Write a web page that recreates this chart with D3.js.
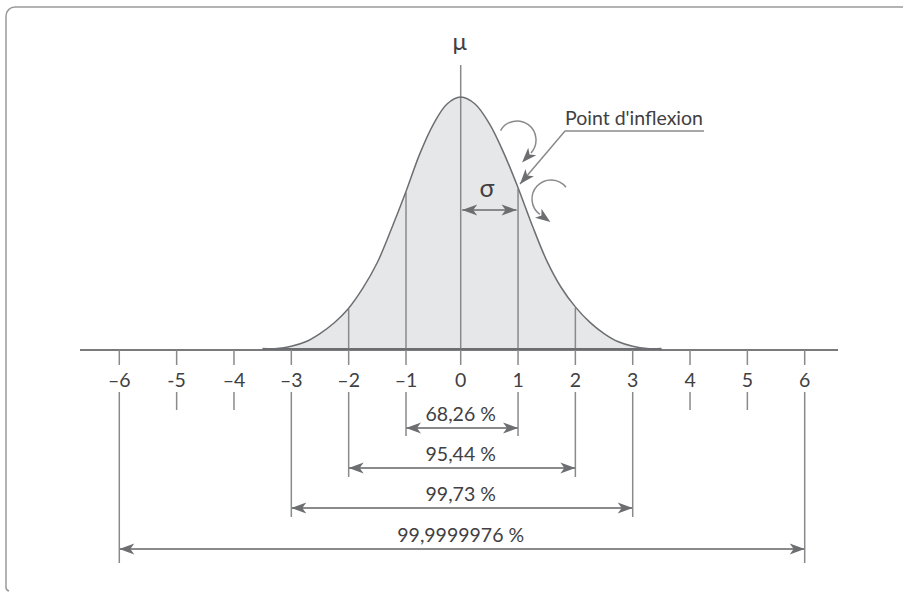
<!DOCTYPE html>
<html>
<head>
<meta charset="utf-8">
<script src="https://cdn.jsdelivr.net/npm/d3@7"></script>
<style>
  html, body { margin: 0; padding: 0; background: #fff; }
  svg { display: block; }
  text { font-family: Lato, "Open Sans", sans-serif; fill: #414042; }
</style>
</head>
<body>
<svg id="chart" width="903" height="593"></svg>
<script>
// ---- data ----
const tickValues = [-6, -5, -4, -3, -2, -1, 0, 1, 2, 3, 4, 5, 6];
const tickLabels = ["\u20136", "-5", "\u20134", "\u20133", "\u20132", "\u20131", "0", "1", "2", "3", "4", "5", "6"];
// density curve
const curveX = [-3.5, -3.25, -3.0, -2.75, -2.5, -2.25, -2.0, -1.75, -1.5, -1.25, -1.0, -0.75, -0.5, -0.25, 0,
                0.25, 0.5, 0.75, 1.0, 1.25, 1.5, 1.75, 2.0, 2.25, 2.5, 2.75, 3.0, 3.25, 3.5];
const curveV = [0.000, 0.002, 0.006, 0.013, 0.026, 0.043, 0.066, 0.098, 0.138, 0.192, 0.250, 0.309, 0.356, 0.388, 0.399,
                0.388, 0.357, 0.311, 0.256, 0.196, 0.141, 0.099, 0.068, 0.044, 0.026, 0.013, 0.006, 0.002, 0.000];
// coverage intervals
const intervalHalfWidth = [1, 2, 3, 6];
const intervalLabels = ["68,26 %", "95,44 %", "99,73 %", "99,9999976 %"];
const innerLines = [-2, -1, 1, 2];

// ---- layout ----
const svg = d3.select("#chart");
const x = d3.scaleLinear().domain([-6, -1, 0, 6]).range([119.3, 406, 460.7, 804.7]);
const y = d3.scaleLinear().domain([0, 0.4]).range([350, 96.4]);
const axisY = 350;
const rowY = [428, 468, 508, 549];      // arrow rows
const labelBase = [421, 461, 500.5, 542];
const lowerTickEnd = { 1: 436, 2: 477, 3: 517, 4: 410, 5: 410, 6: 563 };

const lineCol = "#8a8a8c", darkCol = "#6d6e71";

// markers
const defs = svg.append("defs");
defs.append("marker").attr("id", "tip")
  .attr("viewBox", "-16 -7 17 14").attr("refX", 0).attr("refY", 0)
  .attr("markerWidth", 17).attr("markerHeight", 14).attr("markerUnits", "userSpaceOnUse")
  .attr("orient", "auto-start-reverse")
  .append("path").attr("d", "M0,0 L-15,-5.5 L-11,0 L-15,5.5 Z").attr("fill", darkCol);
defs.append("marker").attr("id", "out")
  .attr("viewBox", "-4 -7 17 14").attr("refX", 0).attr("refY", 0)
  .attr("markerWidth", 17).attr("markerHeight", 14).attr("markerUnits", "userSpaceOnUse")
  .attr("orient", "auto")
  .append("path").attr("d", "M13,0 L-2,-5.5 L2,0 L-2,5.5 Z").attr("fill", darkCol);

// frame
svg.append("path")
  .attr("d", "M903,7 H15 A9,9 0 0 0 6,16 V587 A4,4 0 0 0 9,591")
  .attr("fill", "none").attr("stroke", "#9a9a9a").attr("stroke-width", 1.5);

// area under curve
const pts = curveX.map((d, i) => [d, curveV[i]]);
svg.append("path").datum(pts)
  .attr("d", d3.area().x(d => x(d[0])).y0(axisY - 1).y1(d => y(d[1])).curve(d3.curveCatmullRom))
  .attr("fill", "#e6e7e8");

// inner vertical lines
svg.selectAll("line.inner").data(innerLines).join("line")
  .attr("x1", d => x(d)).attr("x2", d => x(d))
  .attr("y1", axisY).attr("y2", d => y(curveV[curveX.indexOf(d)]) + 1)
  .attr("stroke", lineCol).attr("stroke-width", 1.5);
// mean line
svg.append("line").attr("x1", x(0)).attr("x2", x(0)).attr("y1", 65).attr("y2", axisY)
  .attr("stroke", lineCol).attr("stroke-width", 1.5);

// curve
svg.append("path").datum(pts)
  .attr("d", d3.line().x(d => x(d[0])).y(d => Math.min(y(d[1]), axisY - 1.5)).curve(d3.curveCatmullRom))
  .attr("fill", "none").attr("stroke", darkCol).attr("stroke-width", 1.5);

// axis line
svg.append("line").attr("x1", 80).attr("x2", 838).attr("y1", axisY).attr("y2", axisY)
  .attr("stroke", "#7a7a7c").attr("stroke-width", 2);
svg.append("line").attr("x1", x(-3.5)).attr("x2", x(3.5)).attr("y1", axisY - 1).attr("y2", axisY - 1)
  .attr("stroke", darkCol).attr("stroke-width", 2);

// ticks: upper part
svg.selectAll("line.up").data(tickValues).join("line")
  .attr("x1", d => x(d)).attr("x2", d => x(d)).attr("y1", axisY).attr("y2", 365)
  .attr("stroke", lineCol).attr("stroke-width", 1.5);
// labels
svg.selectAll("text.tick").data(tickValues).join("text")
  .attr("x", d => x(d)).attr("y", 386.5).attr("text-anchor", "middle")
  .attr("font-size", 19.5)
  .text((d, i) => tickLabels[i]);
// lower part
svg.selectAll("line.down").data(tickValues.filter(d => d !== 0)).join("line")
  .attr("x1", d => x(d)).attr("x2", d => x(d)).attr("y1", 392)
  .attr("y2", d => lowerTickEnd[Math.abs(d)])
  .attr("stroke", lineCol).attr("stroke-width", 1.5);

// interval arrows + labels
intervalHalfWidth.forEach((h, i) => {
  svg.append("line")
    .attr("x1", x(-h)).attr("x2", x(h)).attr("y1", rowY[i]).attr("y2", rowY[i])
    .attr("stroke", lineCol).attr("stroke-width", 2)
    .attr("marker-start", "url(#tip)").attr("marker-end", "url(#tip)");
  svg.append("text").attr("x", x(0)).attr("y", labelBase[i])
    .attr("text-anchor", "middle").attr("font-size", 19.5)
    .text(intervalLabels[i]);
});

// mu and sigma
svg.append("text").attr("x", x(0) - 1).attr("y", 50).attr("text-anchor", "middle")
  .attr("font-size", 24).text("\u03bc");
svg.append("text").attr("x", 487).attr("y", 197).attr("text-anchor", "middle")
  .attr("font-size", 25).text("\u03c3");
svg.append("line").attr("x1", x(0) + 1.5).attr("x2", x(1) - 1.5).attr("y1", 210).attr("y2", 210)
  .attr("stroke", lineCol).attr("stroke-width", 2)
  .attr("marker-start", "url(#tip)").attr("marker-end", "url(#tip)");

// inflexion annotation
svg.append("text").attr("x", 565).attr("y", 125).attr("font-size", 19.5)
  .attr("textLength", 138).attr("lengthAdjust", "spacingAndGlyphs")
  .text("Point d'inflexion");
svg.append("path").attr("d", "M704,131 H565 L520,184")
  .attr("fill", "none").attr("stroke", lineCol).attr("stroke-width", 1.5)
  .attr("marker-end", "url(#tip)");

// curved arrows
const rad = a => a * Math.PI / 180;
const p1 = d3.path();
p1.arc(517, 140, 19, rad(210), rad(403), false);
svg.append("path").attr("d", p1.toString())
  .attr("fill", "none").attr("stroke", lineCol).attr("stroke-width", 1.5)
  .attr("marker-end", "url(#out)");
const p2 = d3.path();
p2.arc(551, 199, 19, rad(-38), rad(-234), true);
svg.append("path").attr("d", p2.toString())
  .attr("fill", "none").attr("stroke", lineCol).attr("stroke-width", 1.5)
  .attr("marker-end", "url(#out)");
</script>
</body>
</html>
